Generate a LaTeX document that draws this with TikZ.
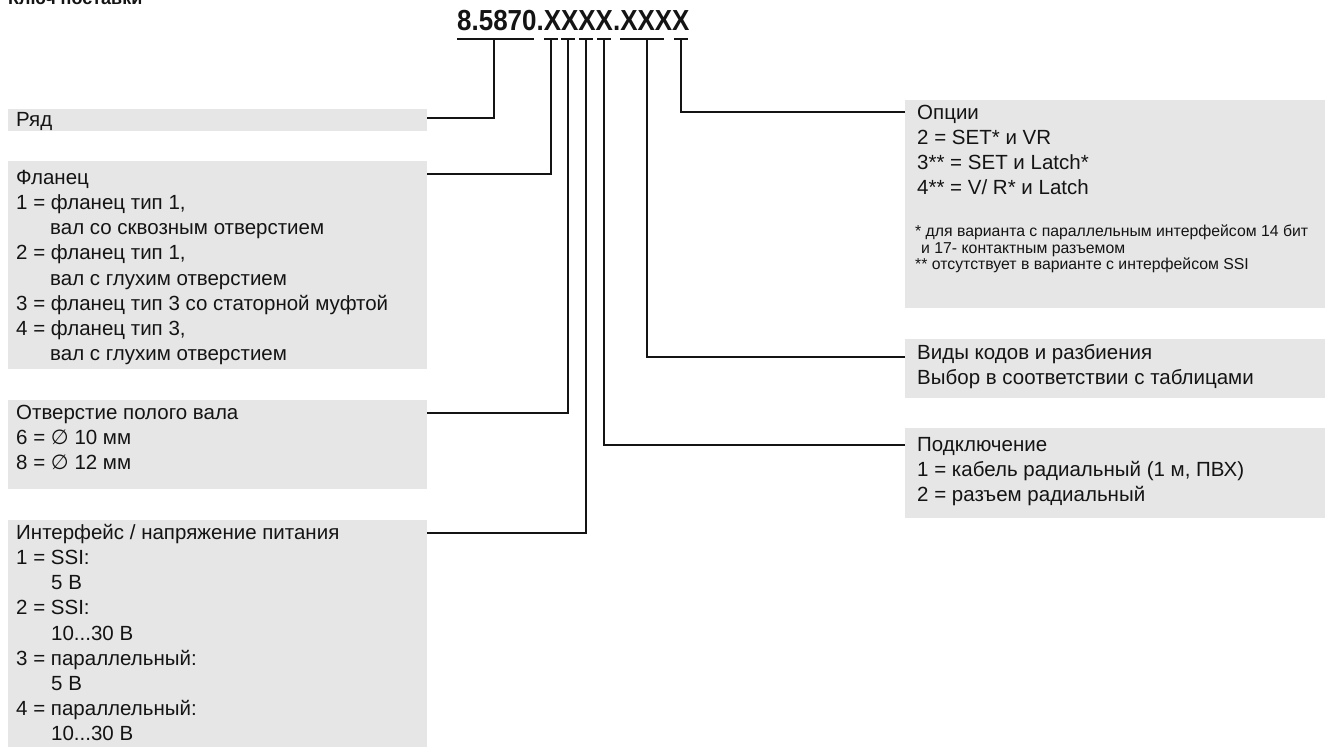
\documentclass[tikz,border=0pt]{standalone}
\usepackage{fontspec}
\setmainfont{Liberation Sans}
\newfontfamily\symfont{DejaVu Sans}
\usetikzlibrary{calc}
\definecolor{boxgray}{HTML}{E6E6E6}
\definecolor{ink}{HTML}{141414}
\newcommand\tstrut{\rule{0pt}{16pt}}
\newcommand\sstrut{\rule{0pt}{11pt}}
\newcommand\ind{\hspace*{34pt}}
\newcommand\dia{{\symfont ∅}}
\begin{document}
\begin{tikzpicture}[x=1pt,y=-1pt,
  box/.style={fill=boxgray, draw=none, inner sep=0pt, anchor=north west},
  lbox/.style={box, minimum width=419pt},
  rbox/.style={box, minimum width=420pt},
  txt/.style={anchor=north west, inner sep=0pt, align=left, text=ink,
    font=\fontsize{20.5}{25.2}\selectfont},
  small/.style={anchor=north west, inner sep=0pt, align=left, text=ink,
    font=\fontsize{15.8}{16.5}\selectfont},
  conn/.style={line width=2.4pt, draw=ink},
]
\useasboundingbox (0,0) rectangle (1325,753);
\fill[white] (0,0) rectangle (1325,753);

% cut-off heading
\node[anchor=base west, inner sep=0pt, text=ink, font=\bfseries\fontsize{18}{20}\selectfont] (head) at (8,4) {Ключ поставки};

% code
\node[anchor=base west, inner sep=0pt, text=ink, font=\bfseries\fontsize{29}{30}\selectfont] (code) at (457,30.5) {\scalebox{0.895}[1]{8.5870.XXXX.XXXX}};

% tick tops
\coordinate (tA) at (494,39);
\coordinate (tB) at (551,39);
\coordinate (tC) at (568,39);
\coordinate (tD) at (586,39);
\coordinate (tE) at (604,39);
\coordinate (tF) at (647,39);
\coordinate (tG) at (681,39);

\draw[conn] (457,39) -- (534,39);
\draw[conn] ($(tB)+(-7,0)$) -- ($(tB)+(7,0)$);
\draw[conn] ($(tC)+(-7,0)$) -- ($(tC)+(7,0)$);
\draw[conn] ($(tD)+(-7,0)$) -- ($(tD)+(7,0)$);
\draw[conn] ($(tE)+(-7,0)$) -- ($(tE)+(7,0)$);
\draw[conn] (620,39) -- (664,39);
\draw[conn] ($(tG)+(-7,0)$) -- ($(tG)+(7,0)$);

% left boxes
\node[lbox, minimum height=22pt] (ryad) at (8,109) {};
\node[txt] (ryadT) at (16,110) {\tstrut Ряд};

\node[lbox, minimum height=208pt] (flange) at (8,161) {};
\node[txt] (flangeT) at (16,168) {\tstrut Фланец\\
1 = фланец тип 1,\\
\ind вал со сквозным отверстием\\
2 = фланец тип 1,\\
\ind вал с глухим отверстием\\
3 = фланец тип 3 со статорной муфтой\\
4 = фланец тип 3,\\
\ind вал с глухим отверстием};

\node[lbox, minimum height=89pt] (hole) at (8,400) {};
\node[txt] (holeT) at (16,403) {\tstrut Отверстие полого вала\\
6 = \dia\ 10 мм\\
8 = \dia\ 12 мм};

\node[lbox, minimum height=227pt] (iface) at (8,520) {};
\node[txt] (ifaceT) at (16,523) {\tstrut Интерфейс / напряжение питания\\
1 = SSI:\\
\hspace*{35pt}5 В\\
2 = SSI:\\
\hspace*{35pt}10...30 В\\
3 = параллельный:\\
\hspace*{35pt}5 В\\
4 = параллельный:\\
\hspace*{35pt}10...30 В};

% right boxes
\node[rbox, minimum height=208pt] (opts) at (905,100) {};
\node[txt] (optsT) at (917,103) {\tstrut Опции\\
2 = SET* и VR\\
3** = SET и Latch*\\
4** = V/ R* и Latch};
\node[small] (optsN) at (915,225) {\sstrut * для варианта с параллельным интерфейсом 14 бит\\
\hspace*{6pt}и 17- контактным разъемом\\
** отсутствует в варианте с интерфейсом SSI};

\node[rbox, minimum height=59pt] (codes) at (905,339) {};
\node[txt] (codesT) at (917,343) {\tstrut Виды кодов и разбиения\\
Выбор в соответствии с таблицами};

\node[rbox, minimum height=90pt] (conn) at (905,428) {};
\node[txt] (connT) at (917,435) {\tstrut Подключение\\
1 = кабель радиальный (1 м, ПВХ)\\
2 = разъем радиальный};

% connectors
\draw[conn] ($(ryad.north east)+(0,9)$) -| (tA);
\draw[conn] ($(flange.north east)+(0,13)$) -| (tB);
\draw[conn] ($(hole.north east)+(0,13)$) -| (tC);
\draw[conn] ($(iface.north east)+(0,13)$) -| (tD);
\draw[conn] ($(conn.north west)+(0,17)$) -| (tE);
\draw[conn] ($(codes.north west)+(0,18)$) -| (tF);
\draw[conn] ($(opts.north west)+(0,12)$) -| (tG);
\end{tikzpicture}
\end{document}
